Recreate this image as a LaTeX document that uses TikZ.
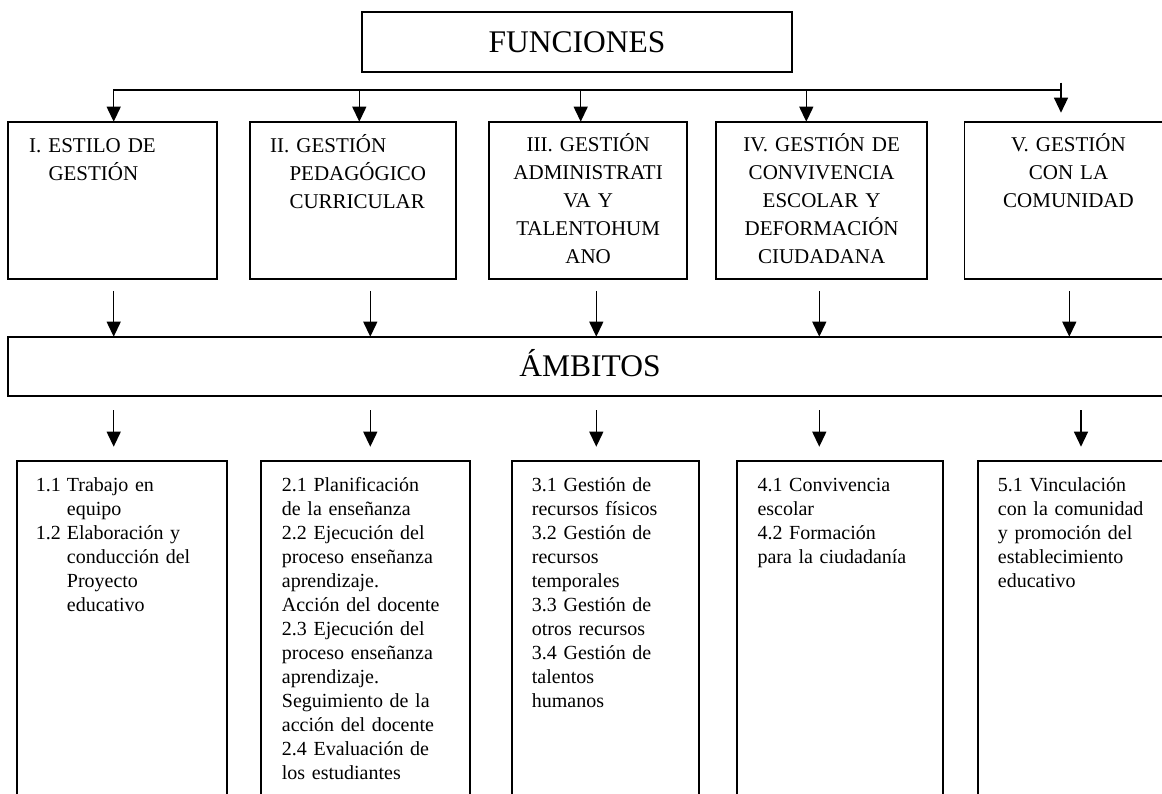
\documentclass[tikz,border=0pt]{standalone}
\usepackage{fontspec}
\setmainfont{Liberation Serif}
\usetikzlibrary{arrows.meta}

\begin{document}
\begin{tikzpicture}[x=1pt,y=-1pt,
  caja/.style={draw,line width=1.8pt,inner sep=0pt,outer sep=0pt,anchor=north west},
  flecha/.style={line width=1.3pt,-{Triangle[width=14pt,length=15pt]}},
  titulo/.style={font=\fontsize{31.5}{36}\selectfont,text height=21pt,text depth=0pt},
  funtxt/.style={font=\fontsize{21}{28}\selectfont,inner sep=0pt,anchor=base west,text width=185pt,align=left},
  funcen/.style={funtxt,anchor=base,align=center},
  ambtxt/.style={font=\fontsize{20}{24}\selectfont,inner sep=0pt,anchor=base west,text width=182pt,align=left}]
\useasboundingbox (0,0) rectangle (1162,794);
\clip (0,0) rectangle (1162,794);

% cabecera
\node[caja,titulo,minimum width=430.6pt,minimum height=60pt] (fun) at (361.7,12.3) {FUNCIONES};

% funciones
\node[caja,minimum width=209pt,minimum height=157pt] (f1) at (8.3,121.7) {};
\node[caja,minimum width=206.3pt,minimum height=157pt] (f2) at (249.7,121.7) {};
\node[caja,minimum width=198.3pt,minimum height=157pt] (f3) at (489,121.7) {};
\node[caja,minimum width=210.7pt,minimum height=157pt] (f4) at (716.3,121.7) {};
\node[caja,minimum width=208pt,minimum height=157pt] (f5) at (964.5,121.7) {};
\node[funtxt] at ([xshift=20.7pt,yshift=-30.6pt]f1.north west) {I. ESTILO DE\\\hspace*{19.3pt}GESTIÓN};
\node[funtxt] at ([xshift=20.3pt,yshift=-30.6pt]f2.north west) {II. GESTIÓN\\\hspace*{19.3pt}PEDAGÓGICO\\\hspace*{19.3pt}CURRICULAR};
\node[funcen] at ([yshift=-30.3pt]f3.north) {III. GESTIÓN\\ADMINISTRATI\\VA Y\\TALENTOHUM\\ANO};
\node[funcen] at ([yshift=-30.3pt]f4.north) {IV. GESTIÓN DE\\CONVIVENCIA\\ESCOLAR Y\\DEFORMACIÓN\\CIUDADANA};
\node[funcen] at ([yshift=-30.3pt]f5.north) {V. GESTIÓN\\CON LA\\COMUNIDAD};

% barra de reparto
\coordinate (b1) at (113.7,90);
\coordinate (b2) at (359.3,90);
\coordinate (b3) at (580.7,90);
\coordinate (b4) at (806.3,90);
\coordinate (b5) at (1061,90);
\draw[flecha] (b5) -- (b1) -- (b1 |- f1.north);
\draw[flecha] (b2) -- (b2 |- f2.north);
\draw[flecha] (b3) -- (b3 |- f3.north);
\draw[flecha] (b4) -- (b4 |- f4.north);
\draw[flecha] ([yshift=7.3pt]b5) -- ([yshift=9pt]b5 |- f5.north);

% ambitos
\node[caja,titulo,minimum width=1163.4pt,minimum height=59.3pt] (amb) at (8.3,336.7) {ÁMBITOS};
\coordinate (m1) at (113.7,291);
\coordinate (m2) at (370.3,291);
\coordinate (m3) at (596.3,291);
\coordinate (m4) at (819.3,291);
\coordinate (m5) at (1069.3,291);
\draw[flecha] (m1) -- (m1 |- amb.north);
\draw[flecha] (m2) -- (m2 |- amb.north);
\draw[flecha] (m3) -- (m3 |- amb.north);
\draw[flecha] (m4) -- (m4 |- amb.north);
\draw[flecha] (m5) -- (m5 |- amb.north);

% contenidos
\node[caja,minimum width=209.4pt,minimum height=345pt] (a1) at (17.3,461) {};
\node[caja,minimum width=209pt,minimum height=345pt] (a2) at (261,461) {};
\node[caja,minimum width=187.6pt,minimum height=345pt] (a3) at (511.7,461) {};
\node[caja,minimum width=206.6pt,minimum height=345pt] (a4) at (736.7,461) {};
\node[caja,minimum width=200pt,minimum height=345pt] (a5) at (978,461) {};
\coordinate (d1) at (113.7,410);
\coordinate (d2) at (370.3,410);
\coordinate (d3) at (596.3,410);
\coordinate (d4) at (819.3,410);
\coordinate (d5) at (1081,410);
\draw[flecha] (d1) -- ([yshift=14.3pt]d1 |- a1.north);
\draw[flecha] (d2) -- ([yshift=14.3pt]d2 |- a2.north);
\draw[flecha] (d3) -- ([yshift=14.3pt]d3 |- a3.north);
\draw[flecha] (d4) -- ([yshift=14.3pt]d4 |- a4.north);
\draw[flecha] (d5) -- ([yshift=14.3pt]d5 |- a5.north);

\node[ambtxt] at ([xshift=18.4pt,yshift=-30pt]a1.north west) {\makebox[31pt][l]{1.1}Trabajo en\\\hspace*{31pt}equipo\\\makebox[31pt][l]{1.2}Elaboración y\\\hspace*{31pt}conducción del\\\hspace*{31pt}Proyecto\\\hspace*{31pt}educativo};
\node[ambtxt] at ([xshift=20.7pt,yshift=-30pt]a2.north west) {2.1 Planificación\\de la enseñanza\\2.2 Ejecución del\\proceso enseñanza\\aprendizaje.\\Acción del docente\\2.3 Ejecución del\\proceso enseñanza\\aprendizaje.\\Seguimiento de la\\acción del docente\\2.4 Evaluación de\\los estudiantes};
\node[ambtxt] at ([xshift=20pt,yshift=-30pt]a3.north west) {3.1 Gestión de\\recursos físicos\\3.2 Gestión de\\recursos\\temporales\\3.3 Gestión de\\otros recursos\\3.4 Gestión de\\talentos\\humanos};
\node[ambtxt] at ([xshift=20.6pt,yshift=-30pt]a4.north west) {4.1 Convivencia\\escolar\\4.2 Formación\\para la ciudadanía};
\node[ambtxt] at ([xshift=19.7pt,yshift=-30pt]a5.north west) {5.1 Vinculación\\con la comunidad\\y promoción del\\establecimiento\\educativo};
\end{tikzpicture}
\end{document}
